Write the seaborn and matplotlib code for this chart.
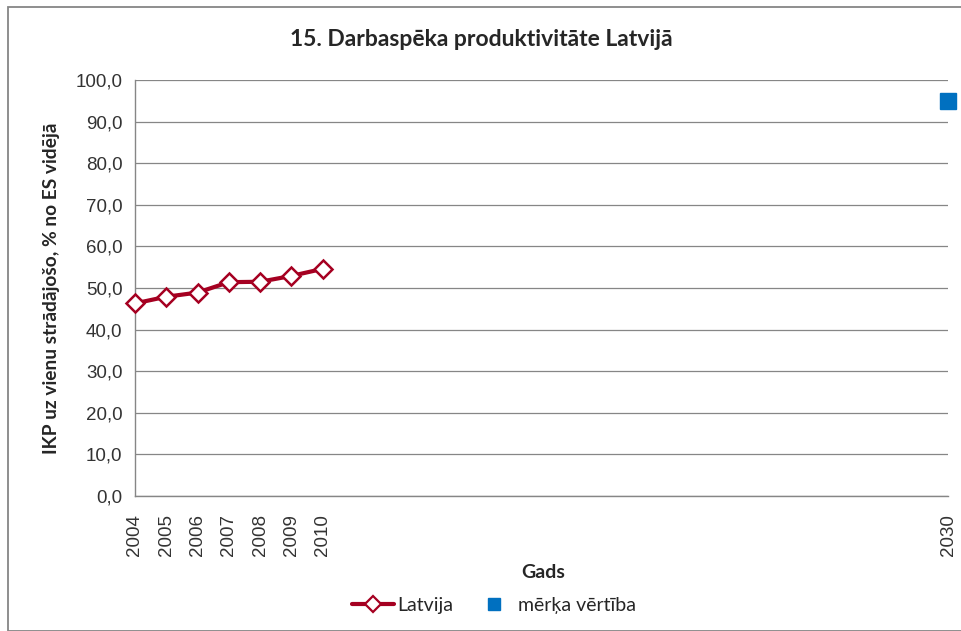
import matplotlib
matplotlib.use("Agg")
import matplotlib.pyplot as plt
import pandas as pd
import seaborn as sns
from matplotlib.patches import Rectangle
from matplotlib.lines import Line2D

# data
years = [2004, 2005, 2006, 2007, 2008, 2009, 2010]
latvija = [46.3, 47.9, 48.9, 51.4, 51.5, 52.9, 54.6]
target_year = [2030]
target_value = [95.0]
all_years = list(range(2004, 2031))
labelled_years = years + target_year

df = pd.DataFrame({"Gads": years, "Latvija": latvija})
df_t = pd.DataFrame({"Gads": target_year, "val": target_value})

sns.set_style("white")
plt.rcParams["font.family"] = ["Liberation Sans", "DejaVu Sans"]

red = "#A50021"
blue = "#0070C0"
grey = "#868686"

fig = plt.figure(figsize=(9.62, 6.31), dpi=100)
ax = fig.add_axes([135/962, 1-496/631, (948-135)/962, (496-80)/631])

# chart border
fig.patches.append(Rectangle((8/962, 0.5/631), 1.2, (631-7.5)/631, transform=fig.transFigure,
                             fill=False, edgecolor=grey, linewidth=1.3))

sns.lineplot(data=df, x="Gads", y="Latvija", ax=ax, color=red, linewidth=3,
             marker="D", markersize=9.5, markerfacecolor="white", markeredgecolor=red,
             markeredgewidth=1.8, clip_on=False, zorder=5)
ax.plot(df_t["Gads"], df_t["val"], linestyle="none", marker="s", markersize=11,
        color=blue, markeredgecolor=blue, clip_on=False, zorder=5)

ax.set_xlim(2004, 2030)
ax.set_ylim(0, 100)
ax.set_yticks(range(0, 101, 10))
ax.set_yticklabels([f"{v:.1f}".replace(".", ",") for v in range(0, 101, 10)],
                   fontsize=13.5, color="#333333")
ax.set_xticks(all_years)
ax.set_xticklabels([str(y) if y in labelled_years else "" for y in all_years],
                   rotation=90, fontsize=13.5, color="#333333")
ax.tick_params(axis="both", direction="out", length=5, width=1, color=grey, pad=4)
ax.tick_params(axis="x", pad=8)

ax.grid(axis="y", color=grey, linewidth=0.9)
ax.grid(axis="x", visible=False)
for s in ["top", "right"]:
    ax.spines[s].set_visible(False)
for s in ["left", "bottom"]:
    ax.spines[s].set_color(grey)
    ax.spines[s].set_linewidth(1)

ax.set_xlabel("")
ax.set_ylabel("")
fig.text(0.5, 1-40/631, "15. Darbaspēka produktivitāte Latvijā", ha="center", va="center",
         fontsize=16.5, fontweight="bold", family=["Lato", "DejaVu Sans"])
fig.text(52/962, 1-288/631, "IKP uz vienu strādājošo, % no ES vidējā", ha="center", va="center",
         rotation=90, fontsize=13.8, fontweight="bold", family=["Lato", "DejaVu Sans"])
fig.text(543/962, 1-572/631, "Gads", ha="center", va="center",
         fontsize=14, fontweight="bold", family=["Lato", "DejaVu Sans"])

handles = [
    Line2D([], [], color=red, linewidth=3, marker="D", markersize=8,
           markerfacecolor="white", markeredgecolor=red, markeredgewidth=1.6),
    Line2D([], [], linestyle="none", marker="s", markersize=9, color=blue),
]
fig.legend(handles, ["Latvija", "mērķa vērtība"], loc="center", bbox_to_anchor=(494/962, 1-605/631),
           ncol=2, frameon=False, prop={"family": ["Lato", "DejaVu Sans"], "size": 14},
           handlelength=2.2, handletextpad=0.15, columnspacing=1.0)

fig.savefig("out.png", dpi=100)
